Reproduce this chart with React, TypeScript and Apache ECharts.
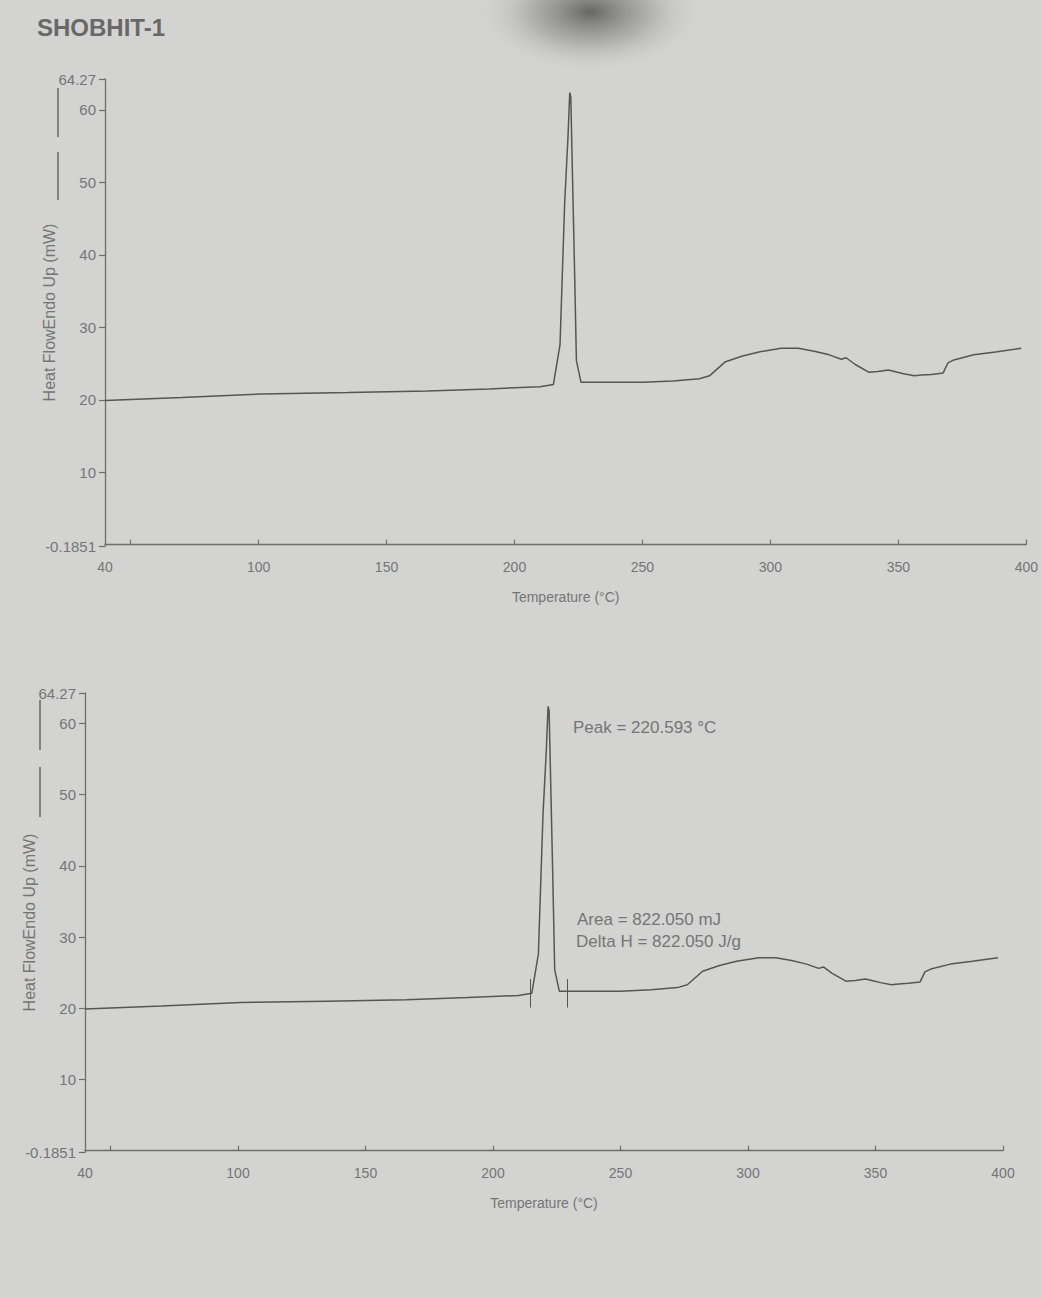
import React, { useEffect, useRef } from "react";
import * as echarts from "echarts";

const chartTitle = "SHOBHIT-1";
const xAxisName = "Temperature (°C)";
const yAxisName = "Heat FlowEndo Up (mW)";

// DSC curve (same measurement drawn in both panels)
const temperature = [
  40, 70, 101, 135, 166, 190, 210,
  215.2, 217.8, 219.6, 220.9, 221.6, 222.0, 223.4, 224.2, 226.0,
  235.8, 250, 262,
  272.3, 276.2, 282.2, 288.8, 295.5,
  304.2, 310.9, 317.1, 323, 327.7,
  329.6, 333, 338.4, 342, 346.1,
  348.5, 352, 356.3, 359, 362.9,
  367.5, 369.4, 371.7, 379.4, 388, 398,
];
const heatFlow = [
  19.9, 20.3, 20.8, 21.0, 21.2, 21.5, 21.8,
  22.1, 27.6, 47.1, 56.2, 62.4, 61.8, 39.2, 25.4, 22.4,
  22.4, 22.4, 22.6,
  22.9, 23.3, 25.2, 26.0, 26.6,
  27.1, 27.1, 26.7, 26.2, 25.6,
  25.8, 24.9, 23.8, 23.9, 24.1,
  23.9, 23.6, 23.3, 23.4, 23.5,
  23.7, 25.1, 25.5, 26.2, 26.6, 27.1,
];

const xMin = 40;
const xMax = 400;
const xLabelValues = [40, 100, 150, 200, 250, 300, 350, 400];
const xTickValues = [50, 100, 150, 200, 250, 300, 350, 400];
const yMin = -0.1851;
const yMax = 64.27;
const yTickValues = [-0.1851, 10, 20, 30, 40, 50, 60, 64.27];
const yTickLabels = ["-0.1851", "10", "20", "30", "40", "50", "60", "64.27"];

// partial-area integration limits (bottom panel)
const integrationLimits = [214.5, 229];
const limitRange = [20.1, 24.1];

const peakText = "Peak = 220.593 °C";
const areaText = "Area = 822.050 mJ";
const deltaHText = "Delta H = 822.050 J/g";

const FONT = "'Liberation Sans', Arial, sans-serif";
const TEXT_COLOR = "#757575";
const AXIS_COLOR = "#6e6e6e";
const LINE_COLOR = "#555555";
const BG = "#d3d4d1";

export default function App() {
  const ref = useRef<HTMLDivElement>(null);

  useEffect(() => {
    if (!ref.current) return;
    const chart = echarts.init(ref.current, null, { renderer: "svg" });
    const curve = temperature.map((t, i) => [t, heatFlow[i]]);

    const yFormatter = (val: number) => {
      const i = yTickValues.findIndex((t) => Math.abs(t - val) < 1e-6);
      return i >= 0 ? yTickLabels[i] : "";
    };

    const makeX = (gridIndex: number) => ({
      type: "value",
      gridIndex,
      min: xMin,
      max: xMax,
      name: xAxisName,
      nameLocation: "middle",
      nameGap: 44,
      nameMoveOverlap: false,
      nameTextStyle: { color: TEXT_COLOR, fontSize: 14, fontFamily: FONT },
      axisLine: { show: true, lineStyle: { color: AXIS_COLOR, width: 1.3 } },
      axisTick: {
        show: true,
        inside: true,
        length: 5,
        customValues: xTickValues,
        lineStyle: { color: AXIS_COLOR, width: 1.2 },
      },
      axisLabel: {
        show: true,
        customValues: xLabelValues,
        margin: 14,
        color: TEXT_COLOR,
        fontSize: 14,
        fontFamily: FONT,
      },
      splitLine: { show: false },
    });

    const makeY = (gridIndex: number) => ({
      type: "value",
      gridIndex,
      min: yMin,
      max: yMax,
      name: yAxisName,
      nameLocation: "middle",
      nameRotate: 90,
      nameGap: 48,
      nameMoveOverlap: false,
      nameTextStyle: { color: TEXT_COLOR, fontSize: 16, fontFamily: FONT },
      axisLine: { show: true, lineStyle: { color: AXIS_COLOR, width: 1.3 } },
      axisTick: {
        show: true,
        length: 6,
        customValues: yTickValues,
        lineStyle: { color: AXIS_COLOR, width: 1.2 },
      },
      axisLabel: {
        show: true,
        customValues: yTickValues,
        formatter: yFormatter,
        margin: 9,
        color: TEXT_COLOR,
        fontSize: 15,
        fontFamily: FONT,
      },
      splitLine: { show: false },
    });

    const shadow = new echarts.graphic.RadialGradient(0.5, 0.5, 0.5, [
      { offset: 0, color: "rgba(75,75,75,0.8)" },
      { offset: 0.5, color: "rgba(120,120,120,0.4)" },
      { offset: 1, color: "rgba(211,212,209,0)" },
    ]);

    chart.setOption({
      animation: false,
      backgroundColor: BG,
      grid: [
        { left: 105, top: 79, width: 925, height: 467 },
        { left: 85, top: 693, width: 918, height: 459 },
      ],
      xAxis: [makeX(0), makeX(1)],
      yAxis: [makeY(0), makeY(1)],
      series: [
        {
          type: "line",
          xAxisIndex: 0,
          yAxisIndex: 0,
          data: curve,
          showSymbol: false,
          smooth: false,
          lineStyle: { color: LINE_COLOR, width: 1.5 },
        },
        {
          type: "line",
          xAxisIndex: 1,
          yAxisIndex: 1,
          data: curve,
          showSymbol: false,
          smooth: false,
          lineStyle: { color: LINE_COLOR, width: 1.5 },
          markLine: {
            silent: true,
            symbol: "none",
            label: { show: false },
            lineStyle: { color: LINE_COLOR, width: 1, type: "solid" },
            data: integrationLimits.map((t) => [
              { coord: [t, limitRange[0]] },
              { coord: [t, limitRange[1]] },
            ]),
          },
        },
      ],
      graphic: [
        {
          type: "ellipse",
          z: -1,
          shape: { cx: 590, cy: 12, rx: 115, ry: 62 },
          style: { fill: shadow },
          silent: true,
        },
        {
          type: "text",
          left: 37,
          top: 15,
          style: {
            text: chartTitle,
            font: `bold 24px ${FONT}`,
            fill: "#686868",
          },
        },
        // series line sample beside the y-axis titles
        { type: "line", shape: { x1: 58, y1: 88, x2: 58, y2: 137 }, style: { stroke: "#666", lineWidth: 1.5 } },
        { type: "line", shape: { x1: 58, y1: 152, x2: 58, y2: 200 }, style: { stroke: "#666", lineWidth: 1.5 } },
        { type: "line", shape: { x1: 40, y1: 700, x2: 40, y2: 750 }, style: { stroke: "#666", lineWidth: 1.5 } },
        { type: "line", shape: { x1: 40, y1: 767, x2: 40, y2: 817 }, style: { stroke: "#666", lineWidth: 1.5 } },
        {
          type: "text",
          left: 573,
          top: 719,
          style: { text: peakText, font: `17px ${FONT}`, fill: TEXT_COLOR },
        },
        {
          type: "text",
          left: 577,
          top: 911,
          style: { text: areaText, font: `17px ${FONT}`, fill: TEXT_COLOR },
        },
        {
          type: "text",
          left: 576,
          top: 933,
          style: { text: deltaHText, font: `17px ${FONT}`, fill: TEXT_COLOR },
        },
      ],
    });

    return () => chart.dispose();
  }, []);

  return (
    <div
      ref={ref}
      style={{ position: "absolute", left: 0, top: 0, width: 1041, height: 1297 }}
    />
  );
}
